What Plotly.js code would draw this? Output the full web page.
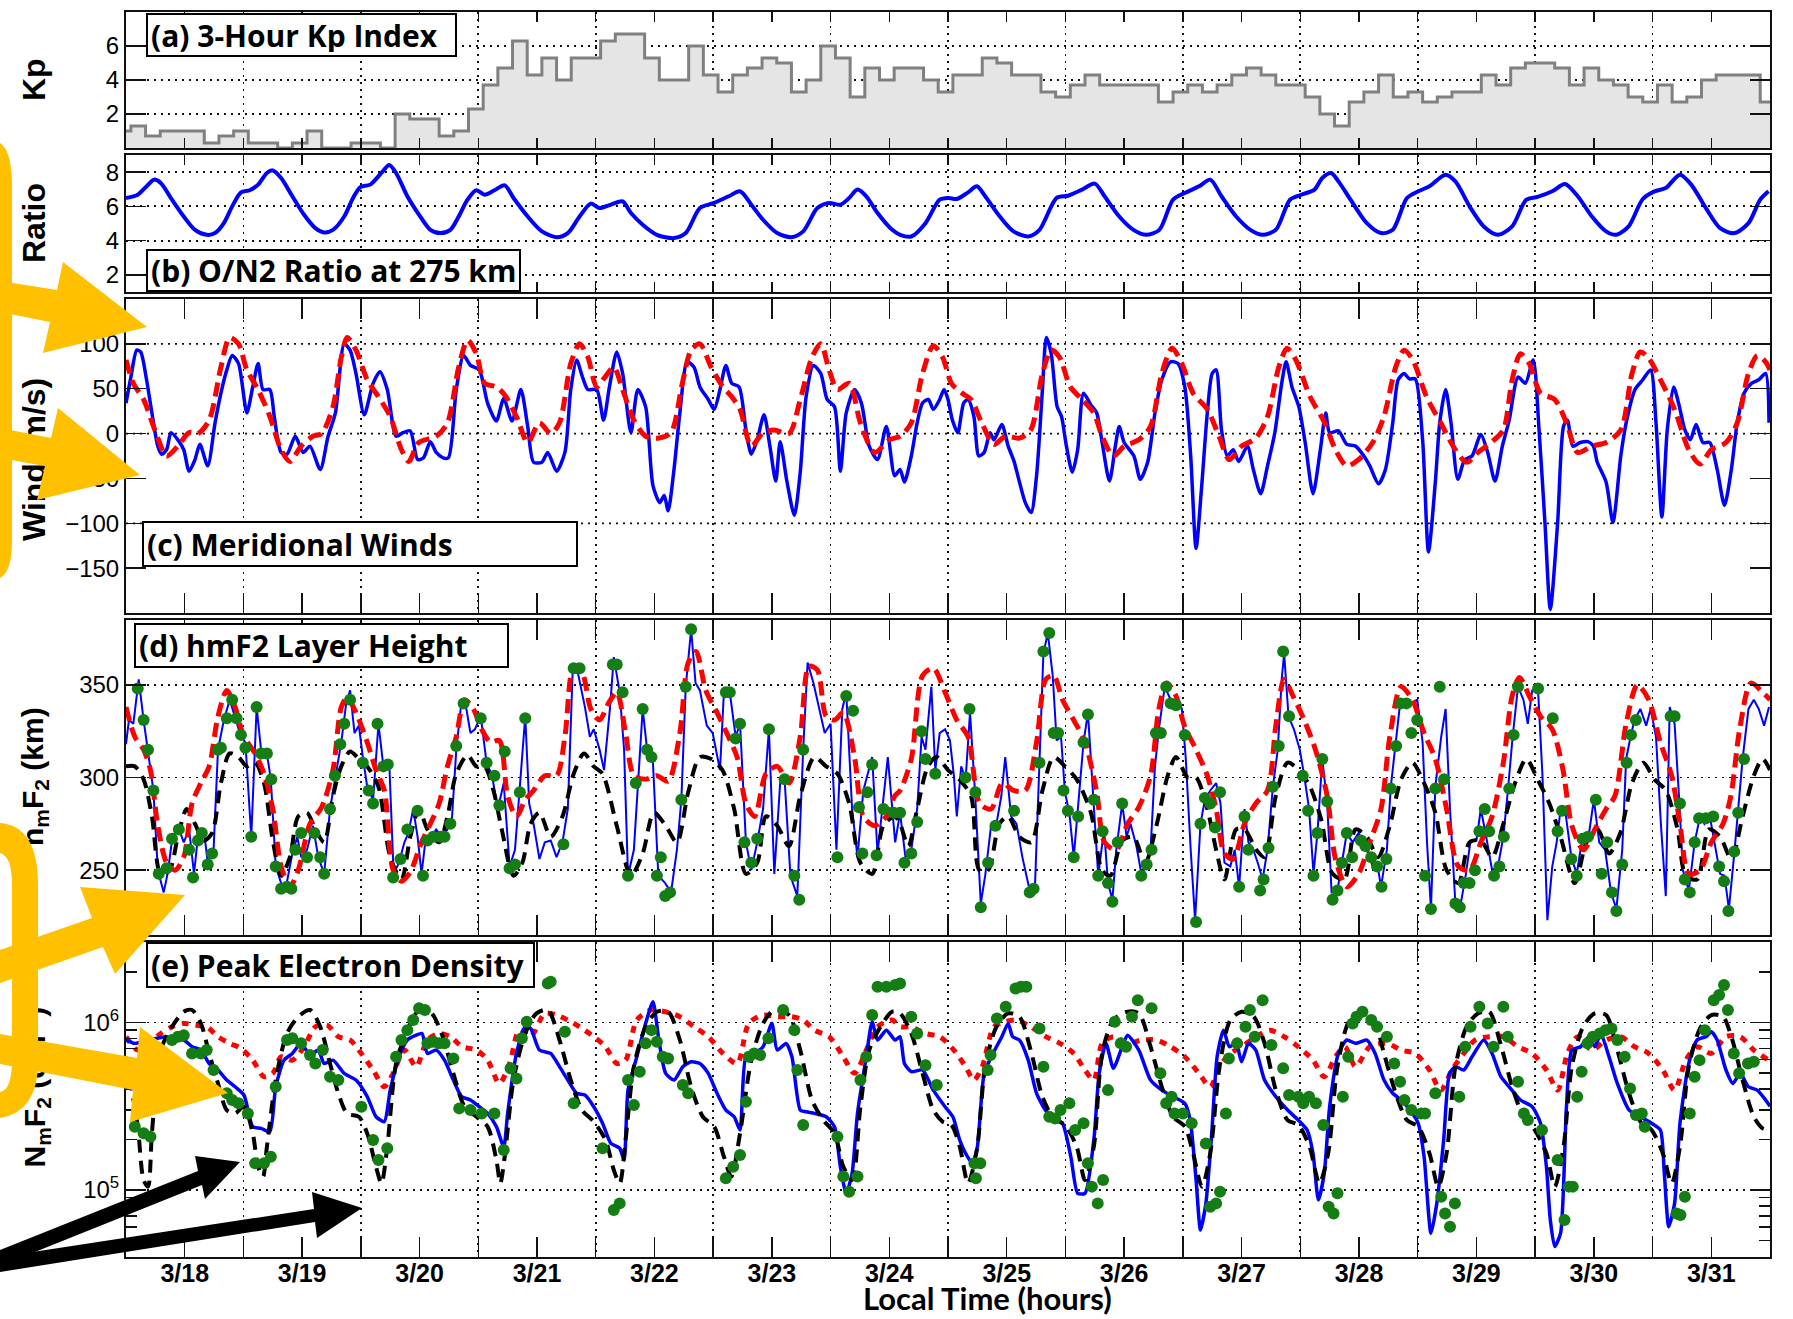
<!DOCTYPE html>
<html><head><meta charset="utf-8">
<script src="https://cdn.plot.ly/plotly-3.0.1.min.js"></script>
<style>
html,body{margin:0;padding:0;background:#fff;}
#wrap{position:relative;width:1793px;height:1319px;}
#chart,#overlay{position:absolute;left:0;top:0;width:1793px;height:1319px;}
#overlay{pointer-events:none;}
</style>
</head><body>
<div id="wrap"><div id="chart"></div><div id="overlay"></div></div>
<script>
// ---------------- DATA (hours since 3/18 00:00 LT) ----------------
const dayLabels = ["3/18","3/19","3/20","3/21","3/22","3/23","3/24","3/25","3/26","3/27","3/28","3/29","3/30","3/31"];

// (a) 3-hour Kp, bins start at -2 h and step 3 h
const kpValues = [1.0,1.3,0.7,1.0,1.0,1.0,0.3,0.7,1.0,0.3,0.3,0.0,0.3,1.0,0.0,0.0,0.3,0.3,0.0,2.0,1.7,1.7,0.7,1.0,2.3,3.7,4.7,6.3,4.3,5.3,4.0,5.3,5.3,6.3,6.7,6.7,5.3,4.0,4.0,6.0,4.3,3.3,4.3,4.7,5.3,5.0,3.3,4.0,6.0,5.3,3.0,4.7,4.0,4.7,4.7,4.0,3.3,4.3,4.3,5.3,5.0,4.3,4.3,3.3,3.0,3.7,4.3,3.7,3.7,3.7,3.7,2.7,3.3,3.7,3.3,3.7,4.3,4.7,4.3,3.7,3.7,3.0,2.0,1.3,2.7,3.3,4.3,3.0,3.3,2.7,3.0,3.3,3.3,4.3,3.7,4.7,5.0,5.0,4.7,3.7,4.7,4.0,3.7,3.0,2.7,3.7,2.7,3.0,4.0,4.3,4.3,4.3,2.7];

// (b) O/N2 ratio at 275 km
const ratioHours = [0,2.4,4.2,5.7,7.1,9.4,11.8,14.1,16.5,18.2,20,21.7,23.5,25.3,27,28.8,30,31.7,34,36.4,38.7,40.5,42.3,44.6,46.4,47.9,49.9,52.2,53.8,55.2,57.5,59.9,62.2,64.3,66.3,68,69.8,71.6,73.3,75.3,77.4,79.2,82.1,85,88,90.3,92.7,95,96.8,99.1,101.5,103.2,105.6,108.5,112,114.4,117.3,120.2,123.2,125.5,127.8,130.2,133.1,136,138.4,141.3,143.7,146,147.8,149.5,151.3,153.6,156.6,158.2,160.5,163.4,166.3,168.1,169.8,172.1,173.9,175.6,178.6,181.4,184.4,186.7,190.2,192.5,195.4,198,200,203,205.9,208.5,211.2,214,216.4,219.3,221.6,223.9,226.9,229.8,232.3,235,237.9,240.2,242.9,244.5,246.3,247.8,250.7,253.6,256.5,258.9,261.8,264.1,266.4,269.7,271.7,274.6,277.5,280.4,283.3,286.2,288.5,291.5,294.1,296.7,299.6,302.5,304.6,307.1,310,312.4,314.7,317.6,319.9,322.9,325.8,328.7,331.6,334,335.7];
const ratioValues = [6.49,6.68,7.17,7.56,7.37,6.39,5.41,4.63,4.34,4.44,5.02,6.0,6.82,6.94,7.27,7.95,8.1,7.66,6.59,5.51,4.73,4.48,4.63,5.41,6.49,7.13,7.27,7.95,8.42,7.95,6.59,5.51,4.63,4.44,4.63,5.41,6.39,6.94,6.68,6.94,7.23,6.49,5.41,4.54,4.2,4.44,5.41,6.16,5.9,6.1,6.29,5.61,4.93,4.34,4.15,4.44,5.9,6.2,6.59,6.88,6.1,5.22,4.44,4.2,4.54,5.9,6.2,6.1,6.49,6.98,6.59,5.61,4.63,4.34,4.24,5.02,6.39,6.49,6.43,6.82,7.17,6.59,5.41,4.54,4.24,4.63,6.49,6.62,6.98,7.33,6.59,5.41,4.63,4.34,4.63,6.39,6.78,7.17,7.56,6.59,5.41,4.63,4.34,4.63,6.39,6.68,6.98,7.66,7.95,7.46,6.2,5.02,4.44,4.63,6.49,6.88,7.17,7.85,7.46,6.0,4.83,4.34,4.83,6.39,6.55,6.88,7.3,6.59,5.41,4.54,4.34,4.83,6.43,6.88,7.07,7.85,7.27,5.9,4.73,4.44,5.02,6.39,6.88];

// (c) meridional winds (m/s): observed (blue) and model (red dashed)
const windObsHours = [0,1,2.2,3,4.2,5.3,6.5,7.3,8.3,9.2,10.6,11.8,12.9,14.1,15.1,16.7,18.2,19.4,20.6,21.7,23,24.7,25.9,27,28,29.4,30.3,31.7,32.9,34.6,36.2,37.6,39.7,41.3,42.8,44.6,45.8,47,48.7,50.5,51.9,53.4,55.2,56.6,58.1,59.6,60.8,62.2,63.4,64.8,65.9,67.5,69,70.4,72.2,73.9,75.7,77.2,78.9,80.7,82.1,83.3,85,86.2,88,89.7,90.9,92.1,93.3,94.4,96.2,97.6,98.8,100.3,101.5,103.2,104.6,106.2,107.7,109.1,110,110.8,112,113.2,114.7,116.1,117.3,119,120.2,121.4,122.6,123.8,125.3,126.7,127.8,129,130.4,131.6,132.8,133.7,135.1,136.6,137.8,139,140.5,142,143.3,144.8,146,147.2,148.9,150.3,151.9,153.6,155.4,157.1,158.2,159.1,160.5,161.7,162.8,164,165,166.3,167.2,168,168.9,170,171.2,172.1,173.3,174.3,175.4,176.6,177.4,179,180.3,181.5,182.6,183.8,185,186.1,187.3,188.1,189.1,190.3,191.2,192.2,193.4,194.5,195.7,197.2,198.4,199.5,201,202.2,203,204,206,207.3,208.8,210.3,211.7,213.5,215,216.4,217.6,218.7,219.8,221,222,222.8,223.9,225.1,226.3,227.4,229.2,230.4,231.9,233.3,234.8,236.2,237.1,238.3,239.7,241,242.6,244.1,245.2,246,247.8,249.5,251.3,253,254.2,256,257.4,258.9,260,261.2,262.3,263.5,265,266.2,267.6,268.5,269.7,270.8,272.2,273.6,275.1,276.9,278.3,279.8,281.3,282.7,284.5,286,287.6,288.8,290,291.1,292.6,293.8,294.6,295.7,297.2,298.8,299.9,300.7,302.5,303.9,305.5,306.6,308.4,310,311.6,312.7,313.9,315,316.3,317.4,318.6,319.7,320.9,322.3,323.7,325.2,326.7,328.1,329.3,330.7,332.2,333.7,335.1,335.8];
const windObsValues = [34,63,93,91,60,23,-14,-23,-18,1,-7,-18,-42,-29,-12,-36,12,45,71,87,78,23,52,78,49,49,19,-21,-23,-3,-21,-14,-40,-3,23,100,93,67,21,56,69,49,-3,1,3,-29,-27,-9,-21,-27,-27,49,87,76,71,34,14,39,14,49,8,-32,-32,-21,-42,-21,49,82,63,49,49,15,52,91,67,1,49,30,-58,-77,-69,-86,-40,23,80,74,52,38,27,49,76,56,52,4,-23,-7,21,-14,-53,-9,-54,-91,-43,41,76,67,38,30,-42,23,49,34,-14,-29,8,-47,-40,-54,-25,12,34,38,27,38,49,38,15,1,34,38,19,-25,-21,1,-7,10,-14,-31,-54,-77,-88,-47,49,107,89,30,19,-14,-43,-18,45,32,23,-10,-53,-14,8,-10,-25,-51,-32,23,60,80,78,52,-25,-128,-62,23,67,71,4,-25,-18,-31,-14,-40,-67,-36,1,56,80,52,30,-10,-67,-18,23,1,3,-12,-14,-25,-36,-56,-40,12,60,67,61,61,-7,-132,-54,12,49,12,-51,-29,-25,-1,-21,-53,-14,15,63,56,82,4,-99,-196,-99,8,15,-14,-10,-9,-14,-32,-54,-99,-25,12,49,60,71,12,-93,4,52,32,4,-7,10,-10,-10,-40,-80,-40,12,45,56,60,67,12];
const windModelHours = [0,1.5,3.6,5.9,8.3,10.6,12.9,14.7,17,19.4,21.2,23,24.7,27,29.4,31.7,33.5,35.8,38.2,40,42.3,44,45.2,47,49.3,51.6,54,56.3,57.8,59.8,63.4,65.7,68,69.8,71.6,73.3,75.7,77.4,79.8,82.1,84.5,86.8,88.6,90.9,92.7,94.4,96.2,97.9,99.7,101.5,103.8,106.2,109,111.4,113.7,115.5,117.3,119.6,122,123.8,125.5,127.8,130.2,132.5,135.5,137.8,140.2,142,143.7,145.4,147.8,150.1,153,156,158.2,160.5,162.8,165,166.9,168.7,170.9,172.7,174.9,177.4,179.7,182.6,184.9,187.3,189.1,190.8,193,195.4,197.8,199.5,201.8,204,207,209.4,211.7,213.8,215.8,218.1,221,223.4,225.5,228,230.9,233.3,235.6,237.3,239.1,242,245,247.2,249.5,251.9,254.8,257.1,259.5,261.2,263,265.8,268.7,271.7,274,276.3,279.2,281.5,283.3,285,286.8,289.1,292,294.4,296.7,299.6,302.5,305.5,307.8,309.5,311.2,313.6,316.5,319.4,321.7,324,327,329.3,331.6,333.4,335.1,336];
const windModelValues = [82,56,38,4,-25,-14,1,0,15,74,107,100,71,49,19,-18,-31,-14,-3,0,30,85,107,93,60,41,19,-18,-31,-10,-3,12,74,104,89,56,52,43,19,-10,12,0,12,78,100,85,52,63,74,49,15,-3,-5,1,56,93,100,74,52,41,27,-14,1,4,0,38,85,100,71,49,56,12,-21,-7,-3,12,67,98,85,56,45,38,12,-12,-3,-5,4,67,93,85,52,38,23,-3,-25,-14,-7,8,67,95,78,45,27,-3,-29,-14,-5,19,74,95,82,41,12,-18,-36,-29,-10,19,74,93,82,41,12,-18,-32,-21,-9,4,60,89,78,45,38,12,-21,-14,-10,4,67,91,84,60,27,-18,-34,-18,-10,12,67,87,80,71];

// (d) hmF2 (km): observed line (blue), observed points (green), model 1 (red dashed), model 2 (black dashed)
const hmObsHours = [0,0.6,1.5,2.6,3.6,4.5,5.6,6.5,7.7,8.5,9.4,10.6,11.8,12.9,13.9,14.7,15.9,16.7,17.9,18.8,20,21.2,22.3,23.5,24.4,25.6,26.7,27.6,28.8,29.6,30.6,31.7,32.7,34,35,35.8,37,38.2,39.3,40.5,41.7,42.8,44,45,45.8,46.7,47.6,48.4,49.3,50.5,51.6,52.6,53.8,54.7,55.8,56.9,57.7,58.7,59.6,60.4,61.3,62.4,63.4,64.5,65.7,66.6,67.5,68.6,69.5,70.4,71.3,72.5,73.7,74.8,76,77.2,78.4,79.5,80.4,81.6,82.4,83.3,84.5,85.6,86.8,88,89.2,90.3,91.3,92.4,93.8,94.8,95.6,96.8,97.7,98.9,99.7,100.9,101.8,102.6,103.8,104.6,105.6,106.5,107.7,108.8,110.2,111.4,112.6,113.5,114.4,115.5,116.4,117.3,118.7,119.9,121.4,122.2,123.4,124.6,125.5,126.7,127.8,129,130.2,131.4,132.5,133.7,134.6,135.8,137.2,138.4,139.3,140.5,141.7,142.8,144,145.2,146.4,147.2,148.4,149.5,150.7,151.5,152.5,153.6,154.8,155.7,157.2,158.2,159.3,160.5,161.7,162.6,163.4,164.6,165.4,166.3,167.4,168.4,169.2,169.8,170.7,171.6,172.5,173.5,174.7,175.6,176.8,177.9,178.9,179.7,180.9,182,183.2,184.7,185.8,186.7,187.5,188.4,189.4,190.2,191.1,191.9,192.8,193.7,194.9,195.7,196.6,197.8,198.7,199.9,200.7,201.6,202.4,203.6,204.5,205.3,206.5,207.6,208.6,209.4,210.3,211.1,212.3,213.5,214.6,215.8,216.6,217.6,218.5,219.6,220.5,221.6,222.8,223.7,224.5,225.7,226.6,227.5,228.6,229.4,230.4,231.3,232.3,233.3,234.4,235.4,236.2,236.7,237.6,238.7,239.9,240.8,241.8,242.7,243.5,244.5,245.5,246.4,247.6,248.5,249.5,250.7,251.9,252.7,253.9,254.8,255.7,256.5,257.7,258.5,259.4,260.4,261.5,262.7,263.9,265,265.9,266.7,267.6,268.8,269.7,270.6,271.7,272.8,273.8,274.8,276,276.9,278,279.2,280.4,281.5,282.5,283.4,284.5,285.6,286.5,287.4,288.6,289.5,290.5,291.5,292.4,293.2,294.2,295.4,296.5,297.7,298.8,300,301.1,302.3,303.5,304.6,305.8,306.6,307.5,308.3,309.5,310.7,311.6,312.7,313.7,314.7,315.5,316.5,317.4,318.2,319.4,320.6,321.7,322.6,323.7,324.6,325.8,326.7,327.6,328.7,329.5,330.4,331.6,332.7,333.7,334.8,335.8];
const hmObsValues = [318,331,329,353,331,315,293,250,238,248,266,274,265,272,248,268,272,254,261,315,331,342,333,322,319,268,338,315,313,299,252,243,241,259,268,257,261,274,257,248,283,301,319,340,347,324,328,311,295,288,329,306,308,248,254,265,270,283,268,248,268,268,272,268,272,277,315,342,338,324,326,333,308,301,283,297,252,261,292,333,286,275,256,265,266,257,265,283,358,356,338,322,326,315,304,337,365,346,315,247,261,297,337,315,308,247,243,238,261,288,349,380,351,347,328,324,304,346,346,322,329,265,250,265,283,326,248,297,299,247,236,315,362,351,337,324,329,261,337,346,283,257,293,301,311,259,290,311,265,281,257,261,283,322,315,349,304,324,326,320,301,279,306,299,335,293,232,247,274,275,290,311,279,275,257,239,243,306,367,378,355,320,322,292,281,257,297,319,335,288,247,272,243,234,261,286,268,275,263,247,254,261,306,326,349,342,342,337,310,261,223,275,288,293,297,286,254,252,261,241,283,265,261,254,245,261,295,315,353,367,333,326,315,301,283,248,270,310,286,238,239,254,270,265,270,266,259,252,254,241,261,295,315,340,342,340,342,319,265,229,295,322,337,283,232,232,247,266,266,283,268,250,252,268,295,322,349,342,329,347,347,301,223,252,265,283,281,257,248,268,266,288,265,261,238,229,261,310,322,331,337,328,337,322,275,236,338,329,290,250,239,265,279,275,279,265,248,247,229,259,283,310,337,342,337,328,338];
const hmDotHours = [2.4,3.6,4.5,5.6,6.7,8.3,9.4,10.8,12.9,13.7,14.7,15.5,16.7,17.6,18.8,19.4,20.6,21.7,22.6,23.5,24.4,25.6,26.7,27.6,28.8,29.7,30.6,31.7,32.9,33.8,34.6,35.8,37,38.5,39.7,40.5,41.7,42.7,43.8,44.6,45.8,48.4,49.6,50.5,51.4,52.6,53.5,54.6,56.1,57.5,59.6,60.7,61.6,62.8,64.3,65.1,66.3,67.5,69,72.5,73.7,75.3,76.3,77.4,78.4,79.5,80.5,81.6,89.4,91.5,92.7,99.5,100.3,101.5,102.6,104.2,105.6,106.5,107.4,108.5,109.3,110.2,111.2,113.5,114.4,115.5,122.6,123.4,124.6,125.5,126.4,127.8,129,131.4,134.6,136.6,137.6,138.4,145.4,147.2,148.6,149.8,150.5,151.5,152.5,153.4,154.8,156.9,158.2,159.1,160.5,161.7,162.6,163.4,165.4,171.6,172.4,173.6,174.7,176.2,177.7,181.5,184.7,185.5,186.7,187.5,188.7,189.6,190.5,191.6,192.5,193.7,194.6,195.7,196.6,197.8,198.7,199.6,200.7,201.6,202.7,203.6,207.5,208.6,209.6,210.5,211.5,212.6,213.5,214.6,216.4,218.7,219.6,220.5,221.6,222.6,223.6,227.5,228.6,229.4,231.8,232.5,233.5,234.4,235.6,236.5,237.7,240.5,241.6,242.7,243.5,244.5,245.5,246.6,247.6,248.5,249.5,250.6,252.4,253.3,254.5,255.7,256.6,257.6,258.5,259.6,260.5,261.7,262.7,263.9,265.5,266.7,267.6,268.5,269.4,271.7,272.6,273.4,274.6,275.7,276.6,277.7,278.6,279.6,280.7,281.6,282.7,283.6,284.5,288.6,291.6,292.6,293.5,295.4,296.5,297.7,298.8,300.4,301.6,302.7,303.7,304.6,305.8,306.7,307.6,308.6,315.7,316.5,317.6,318.6,319.6,320.6,321.5,322.9,324.4,325.6,326.6,327.5,328.7,329.5,330.7];
const hmDotValues = [348,331,315,293,248,251,267,272,261,246,266,270,253,259,315,316,332,342,332,323,316,268,338,313,313,299,252,240,241,240,261,270,257,270,257,248,283,301,318,329,342,308,293,286,329,306,307,246,256,272,282,247,266,268,268,268,275,317,340,332,308,301,285,314,251,253,292,332,264,359,359,361,361,346,247,297,337,315,311,247,257,236,238,288,349,380,346,346,321,329,265,254,267,326,299,247,234,315,257,344,336,284,259,292,307,258,283,281,281,254,259,276,325,310,302,300,337,292,230,254,274,282,238,240,308,368,378,324,324,293,282,257,279,319,334,288,247,271,243,233,265,286,247,253,261,324,324,349,340,339,323,222,275,289,286,273,292,241,279,261,239,245,262,295,317,368,333,301,282,247,270,310,287,234,239,254,270,257,266,263,257,252,241,256,294,317,340,340,324,331,247,229,294,349,299,232,230,243,243,250,271,283,271,247,252,268,294,323,349,348,332,271,282,256,247,267,268,288,248,265,238,228,253,308,323,331,333,333,286,245,238,265,278,278,279,252,244,228,260,281,310];
const hmModel1Hours = [0,1.8,3.6,5,6.5,8.3,10,11.8,13.5,15.3,17,18.8,20.6,22.3,24.1,26.4,28.2,30,31.7,33.5,35.2,37.6,40,42.3,44,45.2,47,49.3,51.1,52.8,54.6,56.3,58.1,60.4,62.2,64,65.7,67.5,69.2,71,72.7,74.5,76.3,78,79.8,81.6,83.3,85.6,88,89.7,91.5,93.3,95,96.8,98.6,100.3,102.1,103.8,106.2,108.5,110.8,113.2,114.9,116.5,118.5,120.8,122.6,124.9,126.7,128.5,130.8,133.1,135.5,137.8,139.6,141.3,143.1,144.8,146.6,148.9,150.7,153,155.4,157.1,158.2,160.5,162.8,165,167.4,169.8,172.1,174.5,176.8,179.1,181.4,183.8,186.1,188,189.6,191.4,193.7,196,198.4,200,202.4,204.7,207,209.4,211.1,212.7,214.6,216.3,218.7,221,222.8,224.5,226.3,228.6,230.9,233.3,235,236.7,238.5,240.8,243.1,245.5,247.2,249.5,251.9,254.2,256.5,258.3,260.6,262.9,265.3,267.6,269.9,272.3,274.6,276.9,279.2,281.5,283.3,284.8,286.8,289.1,291.5,293.7,295.5,297.9,300.2,302.5,304.3,306.6,308.9,311.2,313.6,315.9,317.6,319.4,321.7,324,326.4,328,329.8,332.1,334.5,336];
const hmModel1Values = [338,322,315,304,274,254,250,257,286,297,306,333,347,338,322,313,302,283,252,241,250,275,284,304,338,343,335,319,304,293,250,244,249,265,275,286,306,322,342,337,326,319,320,290,279,288,293,301,301,322,360,356,337,331,340,346,324,301,299,301,298,324,362,368,347,335,325,311,286,279,302,306,297,322,360,358,333,331,335,311,279,274,279,290,293,310,355,359,346,331,322,286,283,297,293,293,319,353,355,342,331,319,292,265,261,275,284,301,337,351,344,328,315,301,283,259,256,275,286,293,328,353,344,331,315,290,256,241,248,265,283,322,349,342,324,310,283,252,250,265,279,308,344,354,344,333,326,304,274,261,272,283,290,329,350,342,319,301,275,248,250,265,275,290,326,351,346,342];
const hmModel2Hours = [0,1.8,3.6,5.3,7.1,8.9,10.6,12.4,14.1,15.9,17.6,19.4,21.2,23,24.7,26.4,28.2,30,31.7,33.5,35.2,37,38.7,40.5,42.3,44,45.8,47.6,49.3,51.6,54,56.3,58.1,59.9,61.6,64,65.7,67.5,69.8,71.6,73.3,75.1,76.8,79.2,81,82.7,84.5,86.8,89.2,91.5,93.6,95.6,97.4,100.3,103.2,105.6,107.9,110.3,112.6,114.9,117.3,119.6,121.9,124.3,126.7,129,130.8,133.1,135.5,137.8,140.7,143.1,145.4,147.8,150.1,152.5,154.8,157.1,158.2,159.9,161.7,163.9,165.7,168,170.3,172.7,174.4,176.2,178.5,180.3,182.6,185,187.3,189.6,191.9,194.3,197.2,199.5,201.2,203.6,205.9,208.3,210.6,212.9,214.6,217,218.7,221,222.8,224.5,226.9,228.6,231,232.7,235,237.4,239.7,242,244.3,246.6,249,251.3,253.6,255.9,258.3,260.6,262.9,265.3,267.6,269.9,272.3,274.6,276.9,279.2,281.5,283.9,286.2,288.5,290.9,293.2,296.1,298.5,300.8,303.1,305.4,307.8,310.1,312.4,314.7,317.1,318.8,321.1,323.5,325.8,328.1,330.4,332.7,334.5,336];
const hmModel2Values = [306,306,299,279,248,250,268,283,275,266,270,297,313,311,306,308,297,266,247,257,279,281,272,265,290,306,314,310,306,295,257,245,268,283,272,265,279,302,312,306,306,293,272,247,254,275,281,268,279,302,313,306,302,274,247,259,281,274,265,292,311,310,304,283,248,254,279,274,263,290,311,306,302,286,254,248,274,279,275,263,283,306,311,304,299,290,250,250,275,279,268,265,293,311,306,299,281,250,247,266,268,254,274,301,311,300,300,283,261,245,272,272,261,257,290,308,304,295,277,248,245,272,268,257,274,299,308,297,281,250,243,265,266,257,275,297,310,299,286,268,243,265,272,259,270,297,308,299,293,272,247,245,272,268,256,279,301,310,304];

// (e) NmF2 (cm^-3), stored as log10 values
const nmObsHours = [0,1.8,4.7,8.2,10,11.8,13.5,15.3,17,18.8,20.6,22.3,24.1,25.9,27.6,29.4,30.6,32.3,34,35.8,37.6,39.3,40.5,42.3,44.6,47,49.3,51.1,52.8,54,55.8,57.5,59.3,60.5,61.6,63.4,65.1,66.9,68.6,70.4,72.2,73.9,75.7,77.2,78,79.8,81.6,82.7,84.5,86.8,88.6,90.3,92.1,93.8,95.6,97.4,99.1,100.9,101.8,102.6,104.4,106.2,107.7,108.9,110.3,112,113.8,115.5,117.3,119,120.8,122.6,124.3,125.5,126.7,128.4,130.2,132,133.1,134.9,136.1,137.8,139,140.7,143.1,144.8,146,147.2,148.4,149.5,151.3,152.5,153.6,155.4,157.2,158.2,159.1,160.5,162.8,165,167.4,169,170.4,171.6,173,174,175.4,177.2,179,180.3,181.2,182.6,184.4,186.1,187.9,189.6,191.4,193.1,194.5,196,197.8,198.9,200.3,201.8,203.6,204.7,207,209.4,211.7,214,216.4,217.5,218.7,219.6,220.7,221.9,223,224.3,225.5,226.9,228,229.4,230.9,232.7,235,237.4,239.6,241.4,242.6,243.7,244.9,246,247.8,249.5,251.3,253.6,255.3,257.1,258.9,260.6,262.4,264.1,265.3,266.7,267.9,269.3,270.5,271.7,273.4,275.1,277.5,279.2,281,282.7,285,287.4,289.1,290.3,291.1,292,293.2,294.4,295.5,297.3,299,300.2,301.4,303.1,304.8,307.2,309.5,311.8,313.6,314.4,315.3,316.5,317.6,319.4,321.1,322.9,324,325.2,327,328.4,329.9,331.6,333.4,335.1,336];
const nmObsLog = [5.895,5.875,5.895,5.915,5.895,5.895,5.855,5.835,5.755,5.716,5.656,5.616,5.567,5.378,5.368,5.348,5.616,5.775,5.815,5.875,5.805,5.835,5.755,5.775,5.696,5.656,5.557,5.437,5.408,5.596,5.795,5.895,5.924,5.934,5.815,5.835,5.775,5.656,5.557,5.537,5.497,5.457,5.378,5.258,5.457,5.815,5.974,5.964,5.835,5.815,5.736,5.656,5.577,5.567,5.497,5.398,5.278,5.249,5.179,5.596,5.795,5.994,6.123,5.895,5.696,5.656,5.736,5.765,5.755,5.696,5.577,5.477,5.437,5.358,5.795,5.815,5.855,5.994,5.835,5.875,5.795,5.477,5.467,5.457,5.437,5.378,5.139,4.98,5.1,5.457,5.795,6.004,5.895,5.954,5.895,5.915,5.755,5.706,5.716,5.596,5.497,5.437,5.298,5.219,5.159,5.258,5.696,5.815,5.915,5.994,5.915,5.895,5.775,5.577,5.477,5.437,5.398,5.199,4.98,4.98,5.298,5.696,5.875,5.726,5.855,5.924,5.835,5.656,5.596,5.557,5.517,5.417,5.06,4.761,4.92,5.338,5.795,5.954,5.855,5.875,5.765,5.875,5.835,5.656,5.557,5.477,5.417,5.358,5.219,4.94,5.1,5.497,5.815,5.895,5.875,5.895,5.815,5.656,5.577,5.537,5.477,5.398,5.199,4.742,4.92,5.298,5.696,5.736,5.716,5.795,5.895,5.815,5.676,5.616,5.537,5.497,5.398,5.139,4.821,4.662,4.742,5.497,5.835,5.855,5.915,5.855,5.934,5.795,5.636,5.477,5.437,5.398,5.358,5.1,4.781,4.92,5.398,5.755,5.895,5.915,5.944,5.895,5.716,5.636,5.696,5.616,5.596,5.537,5.5];
const nmDotHours = [1.8,3.6,5,9.4,10.6,11.8,13.5,15.3,16.5,17.9,20.6,21.7,23,24.9,26.4,28.2,29.6,30.6,32.9,34,35.8,37.6,38.7,40.2,41.7,43.4,48.1,50.5,51.6,53.4,55.2,56.3,57.5,58.7,59.9,61.1,61.6,62.8,64,65.1,66.9,68.1,70.4,72.7,75.3,77.2,78.6,79.8,80.9,81.9,86.2,86.8,89.7,91.5,97.4,99.7,100.9,102.6,103.8,105,106.2,107.4,108.5,109.7,110.8,113.8,114.9,122.6,124.1,125.5,126.7,127.3,128.4,129.6,131.3,134.3,136.6,137.2,138.4,145.4,146.6,147.8,149.5,150.1,151.3,152.5,153.6,155.4,157.2,158.2,160.5,161.7,163.4,165.7,173.4,173.7,174.6,176.1,176.7,178,179.8,181.8,182.9,184,186.7,187.5,188.7,189.9,191,192.8,194,195.7,196.6,197.4,198.6,199.7,200.7,202.1,203.3,204.4,205.6,206.8,209.6,211.4,212.6,213.7,214.3,216,217.8,220.7,221.6,222.8,223.6,224.8,225.4,227.1,228.8,229.7,230.7,232.3,234.1,236.5,237.7,239.6,240.6,241.8,243.2,244.7,245.8,246.8,247.6,248.7,249.8,250.7,251.5,252.7,254.5,255.7,257.7,259.2,260.4,261.3,262.7,264.7,265.5,267.6,268.8,269.6,270.6,271.6,272.5,273.7,274.8,276.6,278.3,279.5,281.5,282.4,284.5,285.7,286.5,289.4,292.6,294,294.9,295.7,296.6,297.5,298.7,299.8,301.2,302.4,303.6,304.8,306.3,307.4,308.6,309.8,310.4,316.9,317.7,318.6,319.6,320.6,321.6,322.7,324.5,325.6,326.6,327.4,328.6,329.7,331.5,332.7];
const nmDotLog = [5.378,5.338,5.318,5.895,5.915,5.924,5.815,5.815,5.835,5.716,5.577,5.537,5.517,5.457,5.159,5.159,5.199,5.616,5.895,5.905,5.875,5.805,5.755,5.835,5.676,5.656,5.497,5.298,5.179,5.249,5.795,5.895,5.954,6.014,6.084,6.074,5.875,5.885,5.875,5.875,5.785,5.487,5.477,5.457,5.457,5.239,5.726,5.666,5.905,6.004,6.233,6.243,5.944,5.517,5.249,4.881,4.92,5.656,5.507,5.706,5.875,5.954,5.885,5.795,5.785,5.626,5.577,5.07,5.139,5.209,5.527,5.795,5.815,5.805,5.905,6.074,5.954,5.716,5.388,5.318,5.08,4.99,5.08,5.656,5.795,6.044,6.213,6.213,6.223,6.233,6.034,5.934,5.745,5.626,5.159,5.07,5.159,5.716,5.805,6.024,6.093,6.203,6.213,6.213,5.964,5.736,5.437,5.427,5.477,5.517,5.358,5.398,5.159,5.02,4.92,5.06,5.596,6.004,5.875,5.855,6.034,6.133,6.084,5.696,5.517,5.557,5.457,5.457,5.398,5.278,4.9,4.92,4.99,5.457,5.785,5.875,5.974,6.074,5.915,6.133,5.865,5.726,5.567,5.557,5.517,5.557,5.517,5.388,4.9,4.86,4.98,5.557,5.795,5.994,6.034,6.064,6.014,5.974,5.915,5.755,5.646,5.537,5.477,5.457,5.457,5.577,4.96,4.86,4.781,4.92,5.557,5.855,5.974,6.093,5.994,5.855,6.093,5.915,5.646,5.457,5.417,5.358,5.179,4.821,5.02,5.02,5.557,5.706,5.875,5.915,5.934,5.954,5.964,5.895,5.795,5.606,5.447,5.457,5.378,4.86,4.851,4.96,5.457,5.676,5.775,5.954,6.133,6.163,6.223,6.074,5.815,5.696,5.755,5.765];
const nmModel1Hours = [0,2.4,4.7,7.1,9.4,11.8,14.1,16.5,18.8,21.2,23.5,25.9,28.2,30,31.7,34,36.4,38.7,41.1,43.4,45.8,48.1,50.5,52.8,54.6,56.9,59.3,61.6,64,66.3,68.7,71.6,73.9,76.3,78.4,80.4,82.7,85.6,88,90.3,92.7,95.6,98,100.3,102.1,104.4,107.3,110.2,113.2,116.1,119,122,124.9,127.3,130.2,133.1,136,138.4,140.7,143.7,146.6,148.9,151.3,153.6,156.6,158.2,160.5,163.4,166.3,169.2,171.6,173.3,175,177.4,179.7,182,184.9,188,190.9,193.7,196,197.8,199.5,201.8,204.7,207.6,210.6,213.5,216.4,219.3,221.6,223.5,225.7,228,231,233.8,236.7,239.6,242.6,244.9,247.2,249.1,251.3,254.2,257.7,260.6,263.5,266.4,268.7,271,273.4,275.7,278.6,281.5,284.5,287.4,290.3,292.6,294.6,296.7,299.6,302.5,305.5,308.3,311.2,314.1,316.5,318.8,321.1,324,327,329.9,332.7,335.7];
const nmModel1Log = [5.915,5.835,5.875,5.934,5.974,5.994,5.984,5.974,5.915,5.875,5.845,5.775,5.676,5.696,5.795,5.775,5.855,5.974,5.984,5.915,5.895,5.815,5.716,5.616,5.696,5.835,5.736,5.895,5.934,5.915,5.855,5.835,5.775,5.636,5.755,5.954,5.915,6.054,6.044,6.014,5.974,5.915,5.855,5.755,5.775,6.014,6.074,6.064,6.034,5.974,5.915,5.815,5.755,5.994,6.044,6.034,6.034,6.014,5.954,5.915,5.795,5.696,5.835,5.974,6.014,5.974,5.974,5.934,5.915,5.835,5.736,5.656,5.736,5.974,6.004,6.014,5.974,5.915,5.875,5.815,5.716,5.656,5.875,5.915,5.875,5.895,5.895,5.855,5.795,5.696,5.616,5.736,5.815,5.855,5.915,5.954,5.915,5.855,5.775,5.676,5.795,5.855,5.736,5.855,5.875,5.835,5.815,5.716,5.596,5.716,5.815,5.895,5.915,5.915,5.855,5.815,5.716,5.596,5.815,5.915,5.835,5.895,5.915,5.855,5.815,5.716,5.596,5.775,5.855,5.815,5.915,5.915,5.835,5.775];
const nmModel2Hours = [0,2.4,3.6,4.5,5.3,7.1,9.4,11.8,13.5,15.3,17,18.8,20.6,22.3,24.1,25.9,27,28,28.8,30.6,32.9,35.2,37.6,39.7,41.7,43.4,45.2,47.6,49.3,51.1,52.2,53.4,55.2,57.5,59.9,62.2,64.5,66.9,69.2,71.6,73.9,75.7,76.5,77.4,79.2,81.6,83.9,86.2,88.6,90.9,93.2,95.6,98,99.7,100.9,102.1,103.8,106.2,108.5,110.8,113.2,115.5,117.9,120.2,122.2,123.7,125.5,127.8,130.2,132.5,135.5,137.8,140.2,142.5,144.8,146.6,148.4,150.1,151.9,154.2,156.6,158.2,160.5,162.8,165,166.9,168.7,170.4,172.1,173.9,175.6,177.9,180.3,182.6,184.9,187.3,189.6,191.9,194.3,196,197.8,199.5,201.8,204.7,207,209.4,211.7,214,216.4,218.1,219.9,221.6,223.5,225.7,228,230.5,232.7,235,237.4,239.6,241.9,243.9,245.7,247.6,250.1,252.5,254.8,257.1,259.5,261.8,264.1,266.4,268.2,269.9,271.7,274,276.3,278.6,280.9,283.3,285.6,287.9,290.3,292,293.8,295.5,297.8,300.2,302.5,304.8,307.2,309.5,311.8,314.1,315.9,317.6,319.4,321.7,324,326.4,328.1,330.4,332.7,334.5,336];
const nmModel2Log = [5.795,5.378,5.06,5.02,5.34,5.835,5.974,6.064,6.074,5.994,5.815,5.636,5.477,5.457,5.497,5.338,5.139,5.08,5.258,5.656,5.934,6.034,6.074,5.974,5.755,5.577,5.457,5.437,5.338,5.139,5.04,5.258,5.755,5.954,6.074,6.064,5.934,5.696,5.497,5.437,5.378,5.179,5.04,5.199,5.656,5.934,6.054,6.074,5.895,5.656,5.477,5.408,5.298,5.119,5.04,5.298,5.736,5.974,6.064,6.064,5.895,5.616,5.437,5.378,5.199,5.08,5.338,5.775,5.994,6.074,6.044,5.835,5.537,5.417,5.338,5.139,5.06,5.497,5.835,5.974,6.064,6.054,5.934,5.696,5.477,5.408,5.388,5.258,5.04,5.239,5.736,5.974,6.054,6.034,5.835,5.557,5.427,5.388,5.258,5.06,5.258,5.815,6.014,6.064,6.054,5.855,5.616,5.437,5.378,5.219,5.02,5.219,5.736,6.014,6.064,6.034,5.875,5.596,5.417,5.388,5.258,5.04,5.219,5.736,6.014,6.054,6.034,5.815,5.577,5.417,5.378,5.219,5.02,5.219,5.736,5.974,6.054,6.064,5.875,5.616,5.437,5.358,5.219,5.02,5.258,5.736,5.974,6.054,6.044,5.835,5.577,5.408,5.358,5.219,5.04,5.258,5.736,5.964,6.044,6.034,5.915,5.656,5.437,5.368,5.358];

// ---------------- LAYOUT ----------------
const W = 1793, H = 1319, L = 126, R = 1770, T = 12, B = 1257;
const px = x => (x - L) / (R - L);
const py = y => (B - y) / (B - T);
const panels = [[12,148],[155,292],[299,613],[620,935],[942,1257]];
const noon = dayLabels.map((d,i) => 12 + 24*i);
const midnight = []; for (let i = 1; i < 14; i++) midnight.push(24*i);
const kpHours = kpValues.map((v,k) => -2 + 3*k);
const kpX = kpHours.concat([-2 + 3*kpValues.length]);
const kpY = kpValues.concat([kpValues[kpValues.length-1]]);
const pow10 = a => a.map(v => Math.pow(10, v));

const ink = '#111';
const dotGrid = '2px,5px';
const traces = [
  {x:kpX, y:kpY, xaxis:'x', yaxis:'y', mode:'lines', line:{shape:'hv', color:'rgb(128,128,128)', width:3}, fill:'tozeroy', fillcolor:'rgb(229,229,229)'},
  {x:ratioHours, y:ratioValues, xaxis:'x2', yaxis:'y2', mode:'lines', line:{color:'rgb(0,0,255)', width:4, shape:'spline', smoothing:0.8}},
  {x:windObsHours, y:windObsValues, xaxis:'x3', yaxis:'y3', mode:'lines', line:{color:'rgb(0,0,255)', width:3.5, shape:'spline', smoothing:0.7}},
  {x:windModelHours, y:windModelValues, xaxis:'x3', yaxis:'y3', mode:'lines', line:{color:'rgb(255,0,0)', width:5, dash:'14px,7px', shape:'spline', smoothing:0.8}},
  {x:hmObsHours, y:hmObsValues, xaxis:'x4', yaxis:'y4', mode:'lines', line:{color:'rgb(0,0,255)', width:2}},
  {x:hmModel2Hours, y:hmModel2Values, xaxis:'x4', yaxis:'y4', mode:'lines', line:{color:'#000', width:4, dash:'13px,8px', shape:'spline', smoothing:0.8}},
  {x:hmModel1Hours, y:hmModel1Values, xaxis:'x4', yaxis:'y4', mode:'lines', line:{color:'rgb(255,0,0)', width:5, dash:'14px,7px', shape:'spline', smoothing:0.8}},
  {x:hmDotHours, y:hmDotValues, xaxis:'x4', yaxis:'y4', mode:'markers', marker:{color:'rgb(20,125,20)', size:12}},
  {x:nmModel1Hours, y:pow10(nmModel1Log), xaxis:'x5', yaxis:'y5', mode:'lines', line:{color:'rgb(255,0,0)', width:5, dash:'7px,7px', shape:'spline', smoothing:0.8}},
  {x:nmObsHours, y:pow10(nmObsLog), xaxis:'x5', yaxis:'y5', mode:'lines', line:{color:'rgb(0,0,255)', width:3.5, shape:'spline', smoothing:0.6}},
  {x:nmModel2Hours, y:pow10(nmModel2Log), xaxis:'x5', yaxis:'y5', mode:'lines', line:{color:'#000', width:4, dash:'13px,8px', shape:'spline', smoothing:0.8}},
  {x:nmDotHours, y:pow10(nmDotLog), xaxis:'x5', yaxis:'y5', mode:'markers', marker:{color:'rgb(20,125,20)', size:12}}
];
traces.forEach(t => { t.showlegend = false; t.hoverinfo = 'skip'; });

const layout = {
  width: W, height: H, margin:{l:L, r:W-R, t:T, b:H-B},
  paper_bgcolor:'#fff', plot_bgcolor:'#fff', showlegend:false,
  annotations: [], shapes: []
};
const yDefs = [
  {range:[0,8], tickvals:[2,4,6], grid:true},
  {range:[1,9], tickvals:[2,4,6,8], grid:true},
  {range:[-200,150], tickvals:[-150,-100,-50,0,50,100], grid:false},
  {range:[215,385], tickvals:[250,300,350], grid:true},
  {range:[4.6,6.48], type:'log', tickvals:[1e5,1e6], ticktext:['10<sup>5</sup>','10<sup>6</sup>'], grid:true}
];
const xTickLen = [10,10,20,20,20];
panels.forEach((p,i) => {
  const n = i === 0 ? '' : String(i+1);
  const dom = [py(p[1]), py(p[0])];
  const xa = {
    domain:[0,1], anchor:'y'+n, range:[0,336],
    tickmode:'array', tickvals:noon, ticktext:dayLabels, showticklabels: i === 4,
    ticks:'inside', ticklen:xTickLen[i], tickwidth:1.5, tickcolor:ink, ticklabelstandoff:-7,
    showline:true, linecolor:ink, linewidth:2, mirror:'ticks', showgrid:false, zeroline:false,
    tickfont:{family:'Liberation Sans, Arial, sans-serif', size:25, color:'#000', weight:'bold'},
    minor:{tickmode:'array', tickvals:midnight, ticks:'inside', ticklen:xTickLen[i], tickwidth:1.5, tickcolor:ink,
           showgrid:true, gridcolor:ink, gridwidth:1.8, griddash:dotGrid}
  };
  if (i) xa.matches = 'x';
  layout['xaxis'+n] = xa;
  const d = yDefs[i];
  const ya = {
    domain:dom, anchor:'x'+n, range:d.range, type:d.type || 'linear',
    tickmode:'array', tickvals:d.tickvals, ticks:'inside', ticklen:20, tickwidth:1.5, tickcolor:ink,
    showline:true, linecolor:ink, linewidth:2, mirror:'ticks', zeroline:false,
    showgrid:d.grid, gridcolor:ink, gridwidth:1.8, griddash:dotGrid,
    tickfont:{family:'Liberation Sans, Arial, sans-serif', size:24, color:'#000'}
  };
  if (d.ticktext) ya.ticktext = d.ticktext;
  if (d.type === 'log') ya.minor = {dtick:'D1', ticks:'inside', ticklen:11, tickwidth:1.5, tickcolor:ink, showgrid:false};
  layout['yaxis'+n] = ya;
});
// panel (c) horizontal dotted grid at -100, 0, 100
[-100,0,100].forEach(v => layout.shapes.push({type:'line', xref:'x3 domain', yref:'y3', x0:0, x1:1, y0:v, y1:v, layer:'below', line:{color:ink, width:1.8, dash:dotGrid}}));

// panel label boxes
const boxFont = {family:'Open Sans, Lato, sans-serif', size:30, color:'#000'};
const boxes = [
  ['(a) 3-Hour Kp Index', 146, 13, 313, 44],
  ['(b) O/N2 Ratio at 275 km', 146, 249, 377, 43],
  ['(c) Meridional Winds', 142, 521, 438, 46],
  ['(d) hmF2 Layer Height', 134, 623, 377, 45],
  ['(e) Peak Electron Density', 146, 942, 391, 46]
];
boxes.forEach(b => layout.annotations.push({
  xref:'paper', yref:'paper', x:px(b[1]), y:py(b[2]), xanchor:'left', yanchor:'top',
  text:'<b>'+b[0]+'</b>', showarrow:false, align:'left', valign:'middle',
  width:b[3]-12, height:b[4]-10, bgcolor:'#fff', bordercolor:'#000', borderwidth:2, borderpad:3, font:boxFont
}));
// axis titles
[['Kp', 80, 'middle', 32], ['Ratio', 223, 'middle', 32], ['Wind (m/s)', 460, 'middle', 32],
 ['h<sub>m</sub>F<sub>2</sub> (km)', 777, 'middle', 30], ['N<sub>m</sub>F<sub>2</sub> (cm<sup>-3</sup>)', 1170, 'bottom', 30]].forEach(t => {
  layout.annotations.push({xref:'paper', yref:'paper', x:px(34), y:py(t[1]), xanchor:'center', yanchor:t[2],
    textangle:-90, text:'<b>'+t[0]+'</b>', showarrow:false,
    font:{family:'Liberation Sans, Arial, sans-serif', size:t[3], color:'#000', weight:'bold'}});
});
layout.annotations.push({xref:'paper', yref:'paper', x:px(987), y:py(1319), xanchor:'center', yanchor:'bottom',
  text:'<b>Local Time (hours)</b>', showarrow:false, font:{family:'Lato, Open Sans, sans-serif', size:31, color:'#000'}});

Plotly.newPlot('chart', traces, layout, {displayModeBar:false, staticPlot:true});

// ---------------- OVERLAY ARROWS (pixel space) ----------------
const poly = pts => 'M ' + pts.map(p => p[0] + ',' + p[1]).join(' L ') + ' Z';
const yellow = '#FFC000';
const overlayShapes = [
  {path:'M -20,140 L 0,143 Q 12,150 12,187 L 12,540 Q 12,572 0,578 L -20,580 Z', color:yellow},
  {path:poly([[0,281],[57,290],[63,262],[147,327],[43,353],[50,322],[0,312]]), color:yellow},
  {path:poly([[0,428],[51,438],[58,408],[140,475],[37,500],[45,466],[0,458]]), color:yellow},
  {path:'M 0,823 Q 38,826 38,885 L 38,1062 Q 38,1112 0,1118 L 0,1092 Q 12,1090 12,1060 L 12,885 Q 12,856 0,853 Z', color:yellow},
  {path:poly([[0,950],[92,918],[80,887],[185,895],[115,974],[103,947],[0,983]]), color:yellow},
  {path:poly([[0,1034],[137,1058],[140,1027],[228,1093],[130,1122],[133,1090],[0,1064]]), color:yellow},
  {path:poly([[0,1250],[198,1171],[195,1156],[240,1162],[205,1199],[202,1185],[0,1266]]), color:'#000'},
  {path:poly([[0,1257],[314,1209],[312,1192],[362,1208],[317,1238],[315,1222],[0,1272]]), color:'#000'}
].map(s => ({type:'path', xref:'x', yref:'y', path:s.path, fillcolor:s.color, line:{width:0}, layer:'above'}));

Plotly.newPlot('overlay', [], {
  width:W, height:H, margin:{l:0, r:0, t:0, b:0},
  paper_bgcolor:'rgba(0,0,0,0)', plot_bgcolor:'rgba(0,0,0,0)', showlegend:false,
  xaxis:{range:[0,W], visible:false, fixedrange:true},
  yaxis:{range:[H,0], visible:false, fixedrange:true},
  shapes: overlayShapes
}, {displayModeBar:false, staticPlot:true});
</script>
</body></html>
